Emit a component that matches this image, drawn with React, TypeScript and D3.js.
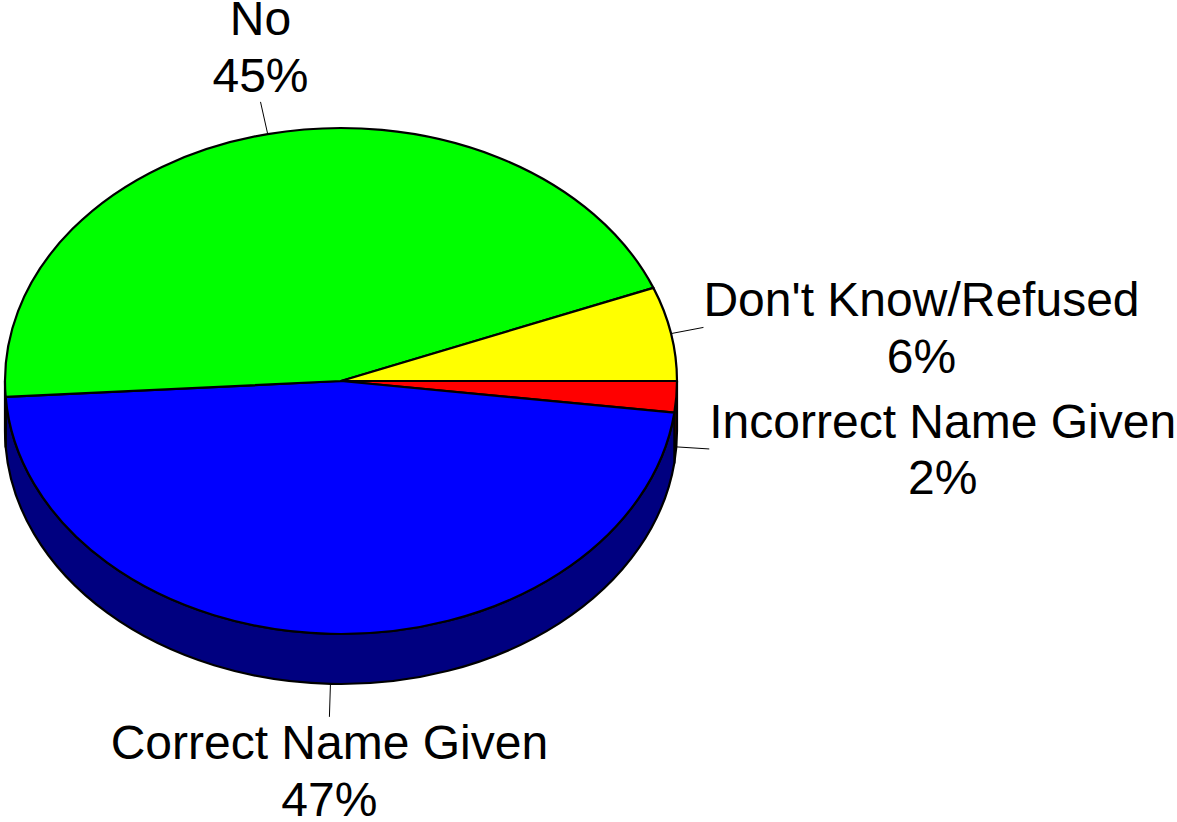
import React from "react";
import * as d3 from "d3";

const categories: string[] = ["Incorrect Name Given", "Correct Name Given", "No", "Don't Know/Refused"];
const values: number[] = [2, 47, 45, 6];
const pctLabels: string[] = ["2%", "47%", "45%", "6%"];
const topColors: string[] = ["#FF0000", "#0000FF", "#00FF00", "#FFFF00"];
const sideColors: string[] = ["#800000", "#000080", "#008000", "#808000"];

const WIDTH = 1177;
const HEIGHT = 822;
const CX = 341;
const CY = 381;
const RX = 336;
const RY = 253;
const DEPTH = 50;
const LEADER = 33;
const FONT_SIZE = 48;
const LINE_H = 56.5;
const CAP = FONT_SIZE * 0.716;
const FONT = "'Liberation Sans', Arial, sans-serif";

function measure(text: string): number {
  if (typeof document === "undefined") return text.length * FONT_SIZE * 0.5;
  const c = document.createElement("canvas").getContext("2d");
  if (!c) return text.length * FONT_SIZE * 0.5;
  c.font = `${FONT_SIZE}px ${FONT}`;
  return c.measureText(text).width;
}

const pt = (t: number, dy = 0): [number, number] => [CX + RX * Math.cos(t), CY + RY * Math.sin(t) + dy];

const App: React.FC = () => {
  // d3 pie angles: 0 at 12 o'clock, clockwise. Shift so it starts at 3 o'clock.
  const arcs = d3
    .pie<number>()
    .sort(null)
    .startAngle(Math.PI / 2)
    .endAngle(Math.PI / 2 + 2 * Math.PI)(values);

  const slices = arcs.map((a, i) => {
    const t0 = a.startAngle - Math.PI / 2;
    const t1 = a.endAngle - Math.PI / 2;
    return { i, t0, t1 };
  });

  const topPath = (t0: number, t1: number) => {
    const p0 = pt(t0);
    const p1 = pt(t1);
    const large = t1 - t0 > Math.PI ? 1 : 0;
    return `M${CX},${CY}L${p0[0]},${p0[1]}A${RX},${RY} 0 ${large} 1 ${p1[0]},${p1[1]}Z`;
  };

  const sidePath = (t0: number, t1: number) => {
    const s = Math.max(t0, 0);
    const e = Math.min(t1, Math.PI);
    if (s >= e) return null;
    const a = pt(s);
    const b = pt(e);
    const bd = pt(e, DEPTH);
    const ad = pt(s, DEPTH);
    return `M${a[0]},${a[1]}A${RX},${RY} 0 0 1 ${b[0]},${b[1]}L${bd[0]},${bd[1]}A${RX},${RY} 0 0 0 ${ad[0]},${ad[1]}Z`;
  };

  const labels = slices.map(({ i, t0, t1 }) => {
    const tm = (t0 + t1) / 2;
    const front = Math.sin(tm) > 0;
    const start = pt(tm, front ? DEPTH : 0);
    const end: [number, number] = [start[0] + LEADER * Math.cos(tm), start[1] + LEADER * Math.sin(tm)];
    const lines = [categories[i], pctLabels[i]];
    const w = Math.max(...lines.map(measure));
    const blockH = LINE_H + CAP;
    let x = end[0];
    let top = end[1];
    if (Math.abs(Math.cos(tm)) > 0.6) {
      x = Math.cos(tm) > 0 ? end[0] + w / 2 : end[0] - w / 2;
      top = end[1] - blockH / 2;
    } else if (Math.sin(tm) > 0) {
      top = end[1] + 8;
    } else {
      top = end[1] - 10 - blockH;
    }
    return { i, start, end, lines, x, base: top + CAP };
  });

  return (
    <svg width={WIDTH} height={HEIGHT} style={{ position: "absolute", left: 0, top: 0, background: "#fff" }}>
      <g stroke="#000" strokeWidth={2.2} strokeLinejoin="round">
        {slices.map(({ i, t0, t1 }) => {
          const d = sidePath(t0, t1);
          return d ? <path key={`s${i}`} d={d} fill={sideColors[i]} /> : null;
        })}
        {slices.map(({ i, t0, t1 }) => (
          <path key={`t${i}`} d={topPath(t0, t1)} fill={topColors[i]} />
        ))}
      </g>
      {labels.map((l) => (
        <g key={`l${l.i}`}>
          <line x1={l.start[0]} y1={l.start[1]} x2={l.end[0]} y2={l.end[1]} stroke="#000" strokeWidth={1} />
          <text x={l.x} y={l.base} textAnchor="middle" fontFamily={FONT} fontSize={FONT_SIZE} fill="#000">
            {l.lines.map((s, k) => (
              <tspan key={k} x={l.x} dy={k === 0 ? 0 : LINE_H}>
                {s}
              </tspan>
            ))}
          </text>
        </g>
      ))}
    </svg>
  );
};

export default App;
